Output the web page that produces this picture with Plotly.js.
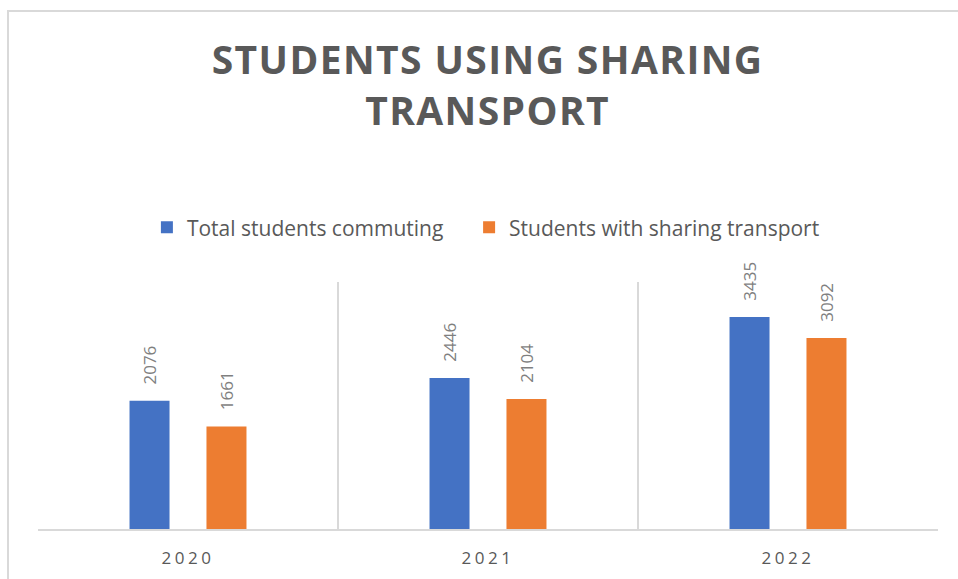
<!DOCTYPE html>
<html>
<head>
<meta charset="utf-8">
<script src="https://cdn.plot.ly/plotly-3.0.1.min.js"></script>
<style>
  html, body { margin: 0; padding: 0; background: #fff; }
  #wrap { position: relative; width: 958px; height: 579px; }
  #chart { width: 958px; height: 579px; }
  #frame { position: absolute; left: 7px; top: 10px; width: 949px; height: 580px;
           border-top: 2px solid #d9d9d9; border-left: 2px solid #d9d9d9; pointer-events: none; }
  .gtitle { letter-spacing: 1.4px; }
  .xtick text { letter-spacing: 3.5px; }
</style>
</head>
<body>
<div id="wrap">
  <div id="chart"></div>
  <div id="frame"></div>
</div>
<script>
const years = ['2020', '2021', '2022'];
const totalCommuting = [2076, 2446, 3435];
const sharingTransport = [1661, 2104, 3092];
const seriesNames = ['Total students commuting', 'Students with sharing transport'];
const chartTitle = 'STUDENTS USING SHARING<br>TRANSPORT';

const labelFont = { family: 'Open Sans, sans-serif', size: 17, color: '#7f7f7f' };
const pad = '\u00a0\u00a0\u00a0';
const legendFont = { family: 'Open Sans, sans-serif', size: 21, color: '#595959' };

const traces = [
  { type: 'bar', name: seriesNames[0], x: years, y: totalCommuting, legend: 'legend',
    marker: { color: '#4472c4' }, text: totalCommuting.map(v => pad + v),
    textposition: 'outside', textangle: -90, textfont: labelFont,
    constraintext: 'none', cliponaxis: false, hoverinfo: 'x+y' },
  { type: 'bar', name: seriesNames[1], x: years, y: sharingTransport, legend: 'legend2',
    marker: { color: '#ed7d31' }, text: sharingTransport.map(v => pad + v),
    textposition: 'outside', textangle: -90, textfont: labelFont,
    constraintext: 'none', cliponaxis: false, hoverinfo: 'x+y' }
];

const layout = {
  width: 958, height: 579,
  margin: { l: 38, r: 20, t: 282, b: 50 },
  paper_bgcolor: '#ffffff', plot_bgcolor: '#ffffff',
  barmode: 'group', bargap: 0.487, bargroupgap: 0.48,
  title: { text: chartTitle, xref: 'container', x: 0.509, xanchor: 'center', y: 0.872, yanchor: 'middle',
           font: { family: 'Open Sans, sans-serif', size: 39, color: '#595959', weight: 700 } },
  showlegend: true,
  legend: { orientation: 'h', x: 0.121, xanchor: 'left', y: 1.22, yanchor: 'middle',
            font: legendFont, itemwidth: 30, bgcolor: 'rgba(0,0,0,0)' },
  legend2: { orientation: 'h', x: 0.479, xanchor: 'left', y: 1.22, yanchor: 'middle',
             font: legendFont, itemwidth: 30, bgcolor: 'rgba(0,0,0,0)' },
  xaxis: { type: 'category', tickson: 'boundaries', showgrid: true, gridcolor: '#d9d9d9', gridwidth: 2,
           showline: true, linecolor: '#d9d9d9', linewidth: 2, ticks: '', ticklabelstandoff: 13,
           tickfont: { family: 'Open Sans, sans-serif', size: 17, color: '#595959' }, fixedrange: true },
  yaxis: { range: [0, 4000], showgrid: false, zeroline: false, showticklabels: false,
           showline: false, ticks: '', fixedrange: true }
};

Plotly.newPlot('chart', traces, layout, { displayModeBar: false, staticPlot: true });
</script>
</body>
</html>
